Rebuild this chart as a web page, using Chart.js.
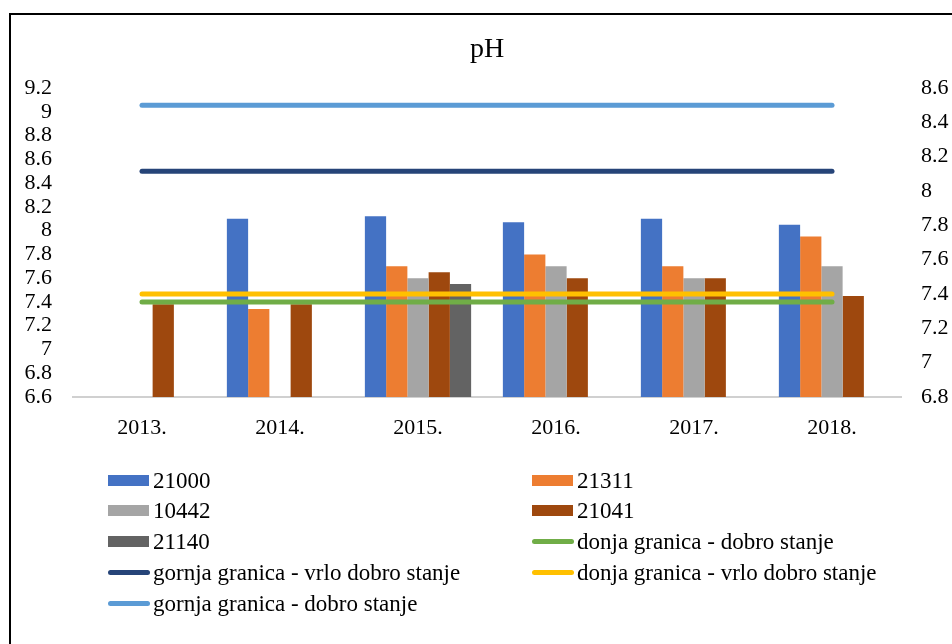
<!DOCTYPE html>
<html>
<head>
<meta charset="utf-8">
<script src="https://cdn.jsdelivr.net/npm/chart.js@4/dist/chart.umd.min.js"></script>
<style>
    body { margin: 0; background: #fff; }
    #wrap { position: relative; width: 952px; height: 644px; overflow: hidden; font-family: "Liberation Serif", "Times New Roman", serif; }
    #frame { position: absolute; left: 9px; top: 13px; width: 1200px; height: 900px; border-left: 2px solid #000; border-top: 2px solid #000; }
    #chartPH { position: absolute; left: 0; top: 0; }
    #title { position: absolute; left: 437px; width: 100px; top: 32px; line-height: 32px; text-align: center; font-size: 28px; color: #000; }
    .leg { position: absolute; height: 26px; white-space: nowrap; }
    .leg .sw { position: absolute; left: 0; }
    .leg .tx { position: absolute; left: 45px; top: 0; font-size: 23px; line-height: 26px; color: #000; }
</style>
</head>
<body>
<div id="wrap">
    <div id="frame"></div>
    <canvas id="chartPH" width="952" height="644"></canvas>
    <div id="title">pH</div>
    <div id="legend"></div>
</div>
<script>
const godine = ['2013.', '2014.', '2015.', '2016.', '2017.', '2018.'];

const s21000 = [null, 8.10, 8.12, 8.07, 8.10, 8.05];
const s21311 = [null, 7.34, 7.70, 7.80, 7.70, 7.95];
const s10442 = [null, null, 7.60, 7.70, 7.60, 7.70];
const s21041 = [7.38, 7.38, 7.65, 7.60, 7.60, 7.45];
const s21140 = [null, null, 7.55, null, null, null];

const donjaDobro = [7.4, 7.4, 7.4, 7.4, 7.4, 7.4];
const gornjaVrloDobro = [8.5, 8.5, 8.5, 8.5, 8.5, 8.5];
const donjaVrloDobro = [7.4, 7.4, 7.4, 7.4, 7.4, 7.4];
const gornjaDobro = [8.5, 8.5, 8.5, 8.5, 8.5, 8.5];

const lijeviTicks = [6.6, 6.8, 7, 7.2, 7.4, 7.6, 7.8, 8, 8.2, 8.4, 8.6, 8.8, 9, 9.2];
const desniTicks = [6.8, 7, 7.2, 7.4, 7.6, 7.8, 8, 8.2, 8.4, 8.6];

const fontTick = { family: '"Liberation Serif", "Times New Roman", serif', size: 22 };

function stupac(label, data, boja) {
    return {
        type: 'bar', label: label, data: data, yAxisID: 'y', order: 1,
        backgroundColor: boja, borderWidth: 0,
        categoryPercentage: 0.77, barPercentage: 1
    };
}

function linija(label, data, boja, os) {
    return {
        type: 'line', label: label, data: data, yAxisID: os, order: 0,
        borderColor: boja, backgroundColor: boja, borderWidth: 5,
        borderCapStyle: 'round', pointRadius: 0, fill: false, tension: 0
    };
}

const datasets = [
    stupac('21000', s21000, '#4472C4'),
    stupac('21311', s21311, '#ED7D31'),
    stupac('10442', s10442, '#A5A5A5'),
    stupac('21041', s21041, '#9E480E'),
    stupac('21140', s21140, '#636363'),
    linija('donja granica - dobro stanje', donjaDobro, '#70AD47', 'y'),
    linija('gornja granica - vrlo dobro stanje', gornjaVrloDobro, '#264478', 'y'),
    linija('donja granica - vrlo dobro stanje', donjaVrloDobro, '#FFC000', 'y1'),
    linija('gornja granica - dobro stanje', gornjaDobro, '#5B9BD5', 'y1')
];

function fiksniTicks(lista) {
    return function(scale) {
        scale.ticks = lista.map(v => ({ value: v }));
    };
}

const chartPH = new Chart(document.getElementById('chartPH').getContext('2d'), {
    data: { labels: godine, datasets: datasets },
    options: {
        responsive: false,
        animation: false,
        layout: { padding: { top: 88, left: 0, right: 0, bottom: 0 } },
        plugins: { legend: { display: false }, title: { display: false }, tooltip: { enabled: false } },
        scales: {
            x: {
                offset: true,
                grid: { display: false, drawTicks: false },
                border: { display: true, color: '#D0D0D0', width: 2 },
                ticks: { color: '#000', font: fontTick, padding: 18 },
                afterFit: function(scale) { scale.height = 247; }
            },
            y: {
                position: 'left', min: 6.6, max: 9.2,
                grid: { display: false, drawTicks: false },
                border: { display: false },
                afterBuildTicks: fiksniTicks(lijeviTicks),
                ticks: { color: '#000', font: fontTick, padding: 21, autoSkip: false, callback: v => String(+v.toFixed(1)) },
                afterFit: function(scale) { scale.width = 73; }
            },
            y1: {
                position: 'right', min: 6.8, max: 8.6,
                grid: { display: false, drawTicks: false },
                border: { display: false },
                afterBuildTicks: fiksniTicks(desniTicks),
                ticks: { color: '#000', font: fontTick, padding: 20, autoSkip: false, callback: v => String(+v.toFixed(1)) },
                afterFit: function(scale) { scale.width = 51; }
            }
        }
    }
});

// legenda u dva stupca kao u Excelu
const redovi = [481, 511, 542, 573, 604];
const stupciX = [108, 532];
const legenda = document.getElementById('legend');
chartPH.data.datasets.forEach((ds, i) => {
    const item = document.createElement('div');
    item.className = 'leg';
    item.style.left = stupciX[i % 2] + 'px';
    item.style.top = (redovi[Math.floor(i / 2)] - 13) + 'px';
    const sw = document.createElement('div');
    sw.className = 'sw';
    if (ds.type === 'bar') {
        sw.style.cssText = 'top:7px;width:41px;height:11px;background:' + ds.backgroundColor;
    } else {
        sw.style.cssText = 'top:10px;width:42px;height:5px;border-radius:3px;background:' + ds.borderColor;
    }
    const tx = document.createElement('div');
    tx.className = 'tx';
    tx.textContent = ds.label;
    item.appendChild(sw);
    item.appendChild(tx);
    legenda.appendChild(item);
});
</script>
</body>
</html>
